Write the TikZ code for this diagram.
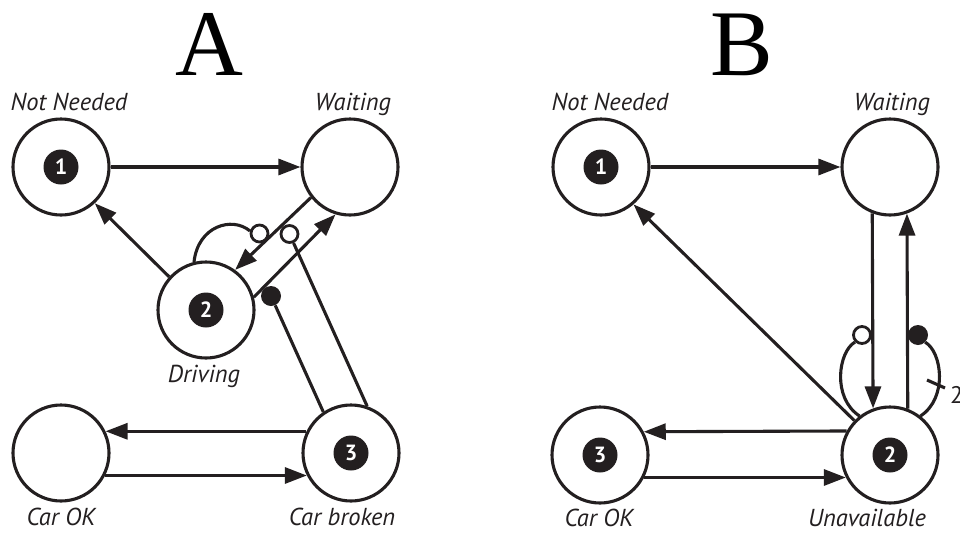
\documentclass[tikz,border=0pt]{standalone}
\usepackage{fontspec}
\setmainfont{PT Sans}
\newfontfamily\titlefont{Liberation Serif}
\usetikzlibrary{arrows.meta}
\definecolor{ink}{HTML}{231F20}
\begin{document}
\begin{tikzpicture}[x=1pt,y=-1pt,
  state/.style={circle, draw=ink, line width=3.1pt, minimum size=96pt, inner sep=0pt},
  badge/.style={circle, fill=ink, text=white, minimum size=35pt, inner sep=0pt, font=\bfseries\fontsize{22}{22}\selectfont},
  lbl/.style={anchor=base, inner sep=0pt, text=ink, font=\itshape\fontsize{24.5}{24.5}\selectfont},
  conn/.style={draw=ink, line width=3.1pt},
  arr/.style={conn, -{Triangle[length=22pt,width=16pt]}},
  opendot/.style={circle, draw=ink, line width=2.8pt, fill=white, minimum size=17pt, inner sep=0pt},
  fulldot/.style={circle, fill=ink, minimum size=20pt, inner sep=0pt},
  titletext/.style={anchor=base, inner sep=0pt, text=black, font=\titlefont\fontsize{94}{94}\selectfont}]
\useasboundingbox (0,0) rectangle (960,533);

% ---------- Panel A ----------
\node[titletext] (tA) at (209,75) {A};
\node[state] (nA) at (61,167) {};
\node[state] (wA) at (350,167) {};
\node[state] (dA) at (206,310) {};
\node[state] (okA) at (61,453) {};
\node[state] (brA) at (351,453) {};
\node[badge] (bA1) at (nA) {1};
\node[badge] (bA2) at (dA) {2};
\node[badge] (bA3) at (brA) {3};
\node[lbl] (lnA) at (69,110) {Not Needed};
\node[lbl] (lwA) at (353,110) {Waiting};
\node[lbl] (ldA) at (204,382) {Driving};
\node[lbl] (lokA) at (61,525) {Car OK};
\node[lbl] (lbrA) at (342,525) {Car broken};

\draw[arr] (nA.east) -- (wA.west);
\draw[arr] (dA.138) -- (nA.-47);
\draw[arr] (wA.218) -- (dA.54);
\draw[arr] (dA.15) -- (wA.253);
\draw[arr] (brA.154) -- (okA.26);
\draw[arr] (okA.-27) -- (brA.207);

\node[opendot] (oA1) at (259.5,233.5) {};
\node[opendot] (oA2) at (289.5,234) {};
\node[fulldot] (fA) at (271,296) {};
\draw[conn] (dA.104) .. controls (198,226) and (232,216) .. (oA1.165);
\draw[conn] (oA2) -- (brA.71);
\draw[conn] (fA) -- (brA.124);

% ---------- Panel B ----------
\node[titletext] (tB) at (742,75) {B};
\node[state] (nB) at (601,167) {};
\node[state] (wB) at (890,167) {};
\node[state] (unB) at (890,455) {};
\node[state] (okB) at (600,455) {};
\node[badge] (bB1) at (nB) {1};
\node[badge] (bB2) at (unB) {2};
\node[badge] (bB3) at (okB) {3};
\node[lbl] (lnB) at (610,110) {Not Needed};
\node[lbl] (lwB) at (892,110) {Waiting};
\node[lbl] (lokB) at (599,526) {Car OK};
\node[lbl] (lunB) at (867,526) {Unavailable};

\draw[arr] (nB.east) -- (wB.west);
\draw[arr] (wB.249.3) -- (unB.110.7);
\draw[arr] (unB.69.3) -- (wB.290.7);
\draw[arr] (unB.151.4) -- (okB.28.6);
\draw[arr] (okB.-27.3) -- (unB.207.3);
\draw[arr] (unB.136) -- (nB.-49);

\node[opendot] (oB) at (862,335) {};
\node[fulldot] (fB) at (918,335) {};
\draw[conn] (oB.225) .. controls (838,352) and (832,398) .. (unB.128);
\draw[conn] (fB.-45) .. controls (942,352) and (948,398) .. (unB.52);
\coordinate (tk1) at (927,380);
\coordinate (tk2) at (945,388);
\draw[conn] (tk1) -- (tk2);
\node[anchor=west, inner sep=0pt, text=ink, font=\fontsize{24}{24}\selectfont] (two) at (950,395) {2};
\end{tikzpicture}
\end{document}
